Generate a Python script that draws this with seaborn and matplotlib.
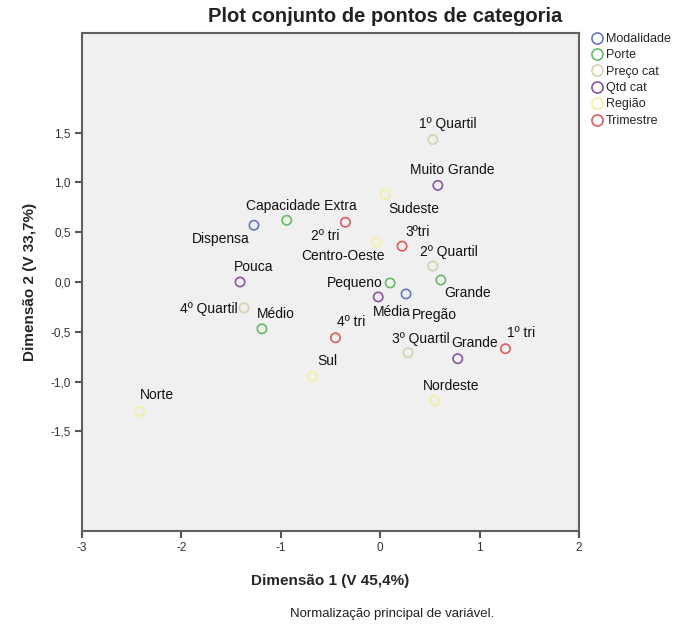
import numpy as np
import pandas as pd
import seaborn as sns
from matplotlib import pyplot as plt
from matplotlib.lines import Line2D

# Data
groups = ["Modalidade", "Porte", "Preço cat", "Qtd cat", "Região", "Trimestre"]

modalidade_labels = ["Dispensa", "Pregão"]
modalidade_x = [-1.27, 0.26]
modalidade_y = [0.57, -0.12]

porte_labels = ["Capacidade Extra", "Pequeno", "Grande", "Médio"]
porte_x = [-0.94, 0.10, 0.61, -1.19]
porte_y = [0.62, -0.01, 0.02, -0.47]

preco_labels = ["1º Quartil", "2º Quartil", "3º Quartil", "4º Quartil"]
preco_x = [0.53, 0.53, 0.28, -1.37]
preco_y = [1.43, 0.16, -0.71, -0.26]

qtd_labels = ["Muito Grande", "Média", "Grande", "Pouca"]
qtd_x = [0.58, -0.02, 0.78, -1.41]
qtd_y = [0.97, -0.15, -0.77, 0.00]

regiao_labels = ["Sudeste", "Centro-Oeste", "Sul", "Nordeste", "Norte"]
regiao_x = [0.05, -0.04, -0.68, 0.55, -2.42]
regiao_y = [0.88, 0.40, -0.95, -1.19, -1.30]

tri_labels = ["2º tri", "3ºtri", "4º tri", "1º tri"]
tri_x = [-0.35, 0.22, -0.45, 1.26]
tri_y = [0.60, 0.36, -0.56, -0.67]

x_ticks = [-3, -2, -1, 0, 1, 2]
y_ticks = [-1.5, -1.0, -0.5, 0.0, 0.5, 1.0, 1.5]
y_ticklabels = ["-1,5", "-1,0", "-0,5", "0,0", "0,5", "1,0", "1,5"]

#Build table
parts = []
for g, lab, xs, ys in [("Modalidade", modalidade_labels, modalidade_x, modalidade_y),
                       ("Porte", porte_labels, porte_x, porte_y),
                       ("Preço cat", preco_labels, preco_x, preco_y),
                       ("Qtd cat", qtd_labels, qtd_x, qtd_y),
                       ("Região", regiao_labels, regiao_x, regiao_y),
                       ("Trimestre", tri_labels, tri_x, tri_y)]:
    parts.append(pd.DataFrame({"grupo": g, "cat": lab, "dim1": xs, "dim2": ys}))
df = pd.concat(parts, ignore_index=True)

colors = {"Modalidade": "#6677bb", "Porte": "#66bb66", "Preço cat": "#d6d2b0",
          "Qtd cat": "#8a559c", "Região": "#f4eea0", "Trimestre": "#dd5c5c"}

# label offsets in pixels (dx, dy)
offsets = {("Modalidade", "Dispensa"): (-33, -14), ("Modalidade", "Pregão"): (28, -21),
           ("Porte", "Capacidade Extra"): (15, 14), ("Porte", "Pequeno"): (-35, 0),
           ("Porte", "Grande"): (27, -13), ("Porte", "Médio"): (14, 15),
           ("Preço cat", "1º Quartil"): (15, 16), ("Preço cat", "2º Quartil"): (16, 14),
           ("Preço cat", "3º Quartil"): (13, 14), ("Preço cat", "4º Quartil"): (-35, -1),
           ("Qtd cat", "Muito Grande"): (14, 15), ("Qtd cat", "Média"): (14, -15),
           ("Qtd cat", "Grande"): (17, 16), ("Qtd cat", "Pouca"): (14, 15),
           ("Região", "Sudeste"): (29, -15), ("Região", "Centro-Oeste"): (-33, -14),
           ("Região", "Sul"): (15, 16), ("Região", "Nordeste"): (16, 15),
           ("Região", "Norte"): (17, 16),
           ("Trimestre", "2º tri"): (-20, -14), ("Trimestre", "3ºtri"): (16, 14),
           ("Trimestre", "4º tri"): (16, 16), ("Trimestre", "1º tri"): (16, 16)}

sns.set_style("white")
plt.rcParams['font.family'] = ['Liberation Sans', 'DejaVu Sans']

fig = plt.figure(figsize=(6.83, 6.33), dpi=100)
ax = fig.add_axes([82/683, 1-531/633, 497/683, 498/633])
ax.set_facecolor("#f0f0f0")

sns.scatterplot(data=df, x="dim1", y="dim2", hue="grupo", palette=colors,
                s=45, linewidth=1.2, legend=False, ax=ax)
coll = ax.collections[0]
fc = coll.get_facecolors()
coll.set_edgecolors(fc)
coll.set_facecolors("none")

for _, r in df.iterrows():
    dx, dy = offsets[(r["grupo"], r["cat"])]
    ax.annotate(r["cat"], (r["dim1"], r["dim2"]), xytext=(dx, dy),
                textcoords="offset pixels", ha="center", va="center",
                fontsize=10, color="#111111")

ax.set_xlim(-3, 2)
ax.set_ylim(-2.5, 2.5)
ax.set_xticks(x_ticks)
ax.set_xticklabels([str(t) for t in x_ticks])
ax.set_yticks(y_ticks)
ax.set_yticklabels(y_ticklabels)
ax.tick_params(direction="out", length=5, width=1.5, color="#555555",
               labelsize=8.5, labelcolor="#333333", bottom=True, left=True, pad=3)
for s in ax.spines.values():
    s.set_color("#606060")
    s.set_linewidth(1.5)

ax.set_xlabel("Dimensão 1 (V 45,4%)", fontsize=11, fontweight="bold", labelpad=14)
ax.set_ylabel("Dimensão 2 (V 33,7%)", fontsize=11, fontweight="bold", labelpad=10)

fig.text(385/683, 1-16/633, "Plot conjunto de pontos de categoria",
         ha="center", va="center", fontsize=14.5, fontweight="bold", color="#222222")
fig.text(392/683, 1-614/633, "Normalização principal de variável.",
         ha="center", va="center", fontsize=9.5, color="#222222")

handles = [Line2D([], [], marker="o", ls="", mfc="none", mec=colors[g], ms=8, mew=1.2)
           for g in groups]
fig.legend(handles, groups, loc="upper left", bbox_to_anchor=(592/683, 1-33/633),
           frameon=False, fontsize=9, handlelength=0.8, handletextpad=0.3,
           labelspacing=0.35, borderpad=0, borderaxespad=0)

plt.savefig("out.png", dpi=100)
